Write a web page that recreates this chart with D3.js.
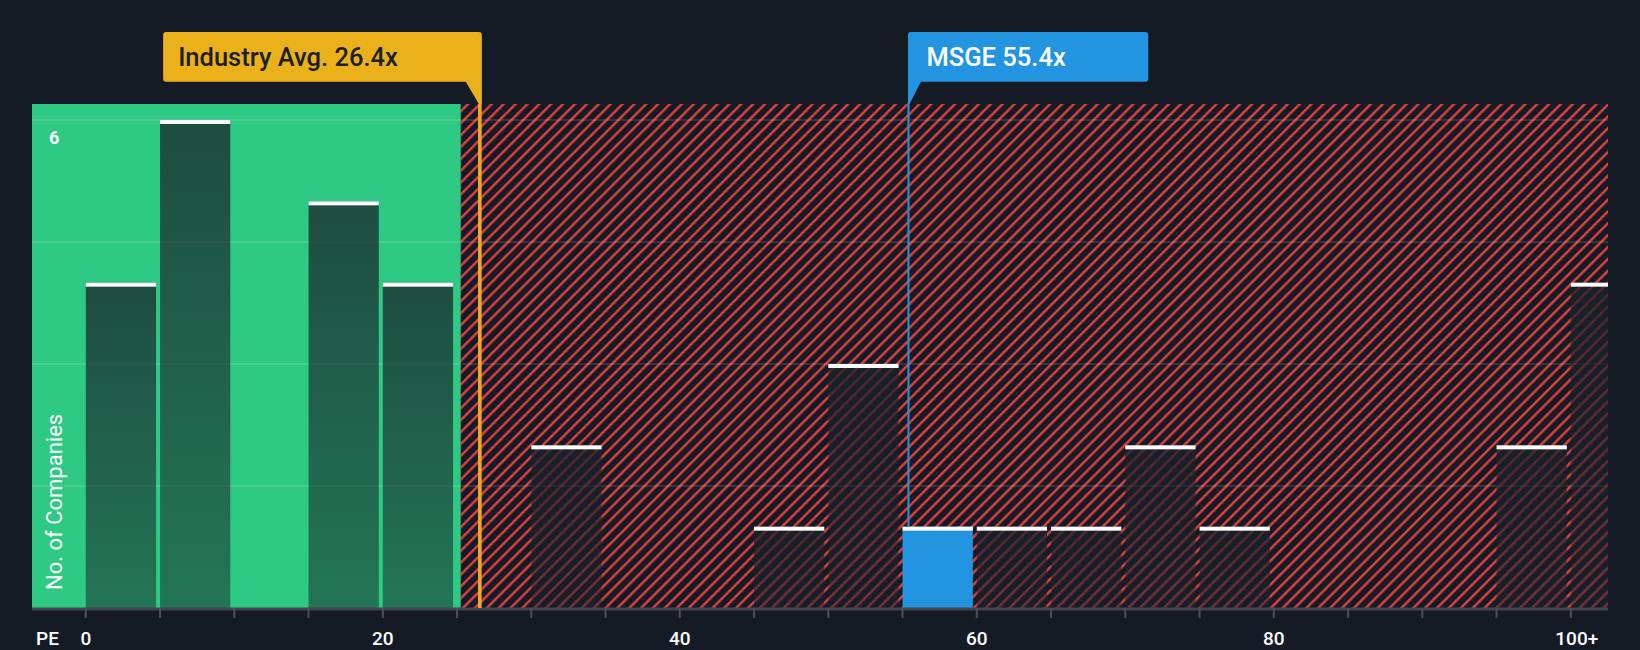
<!DOCTYPE html>
<html><head><meta charset="utf-8">
<script src="https://cdn.jsdelivr.net/npm/d3@7"></script>
<style>
html,body{margin:0;padding:0;background:#151b24;}
svg{display:block;font-family:Roboto,"Noto Sans",sans-serif;}
</style></head>
<body>
<svg id="chart" width="1640" height="650"></svg>
<script>
// ---- data ----
const binStarts = [0,5,10,15,20,25,30,35,40,45,50,55,60,65,70,75,80,85,90,95,100];
const counts    = [4,6,0,5,4,0,2,0,0,1,3,1,1,1,2,1,0,0,0,2,4];
const binWidth = 5;
const tickValues = [0,20,40,60,80,100];
const tickLabels = ["0","20","40","60","80","100+"];
const minorTicks = d3.range(0,101,5);
const gridValues = [1.5,3,4.5,6];
const yLabelValues = [6];
const industryAvg = 26.4;
const companyPE = 55.4;
const companyName = "MSGE";

// ---- layout ----
const L = 32, R = 1608, T = 104, B = 608;
const svg = d3.select("#chart");
const x = d3.scaleLinear().domain([0,100]).range([85.8, 1570.8]);
const y = d3.scaleLinear().domain([0,6]).range([B, 120]);
const bw = x(binWidth) - x(0);

const defs = svg.append("defs");
const P = 8.4;
const pat = defs.append("pattern").attr("id","hatch").attr("patternUnits","userSpaceOnUse")
  .attr("width",P).attr("height",P).attr("patternTransform","rotate(45)");
pat.append("rect").attr("width",P).attr("height",P).attr("fill","#151b24");
pat.append("line").attr("x1",1.3).attr("y1",0).attr("x2",1.3).attr("y2",P)
  .attr("stroke","#e2403f").attr("stroke-width",2.4);
const grad = defs.append("linearGradient").attr("id","barGrad").attr("x1",0).attr("y1",0).attr("x2",0).attr("y2",1);
grad.append("stop").attr("offset","0%").attr("stop-color","#19212a").attr("stop-opacity",0.74);
grad.append("stop").attr("offset","100%").attr("stop-color","#19212a").attr("stop-opacity",0.5);
defs.append("clipPath").attr("id","plotClip").append("rect")
  .attr("x",L).attr("y",T-30).attr("width",R-L).attr("height",B-T+30);

const avgX = x(industryAvg) + 2;
const greenEnd = avgX - 19;

// regions
svg.append("rect").attr("x",L).attr("y",T).attr("width",greenEnd-L).attr("height",B-T).attr("fill","#2ec983");
svg.append("rect").attr("x",greenEnd).attr("y",T).attr("width",R-greenEnd).attr("height",B-T).attr("fill","url(#hatch)");

// gridlines
svg.append("g").selectAll("line").data(gridValues).join("line")
  .attr("x1",L).attr("x2",R).attr("y1",d=>y(d)).attr("y2",d=>y(d))
  .attr("stroke","rgba(255,255,255,0.12)").attr("stroke-width",2);

// bars
const bars = binStarts.map((s,i)=>({s, c:counts[i]})).filter(d=>d.c>0);
const gb = svg.append("g").attr("clip-path","url(#plotClip)");
gb.selectAll("rect.bar").data(bars).join("rect").attr("class","bar")
  .attr("x",d=>x(d.s)).attr("width",bw-4)
  .attr("y",d=>y(d.c)).attr("height",d=>B-y(d.c))
  .attr("fill",d=> (companyPE>=d.s && companyPE<d.s+binWidth) ? "#2394df" : "url(#barGrad)");
gb.selectAll("rect.cap").data(bars).join("rect").attr("class","cap")
  .attr("x",d=>x(d.s)).attr("width",bw-4)
  .attr("y",d=>y(d.c)).attr("height",4).attr("fill","#ffffff");

// axis
svg.append("line").attr("x1",L).attr("x2",R).attr("y1",B+1).attr("y2",B+1).attr("stroke","#3f444d").attr("stroke-width",3);
svg.append("g").selectAll("line").data(minorTicks).join("line")
  .attr("x1",d=>x(d)).attr("x2",d=>x(d)).attr("y1",B).attr("y2",B+10)
  .attr("stroke","#4a4f58").attr("stroke-width",2);
svg.append("g").selectAll("text").data(tickValues).join("text")
  .attr("x",d=>x(d)+(d===100?6:0)).attr("y",645).attr("text-anchor","middle")
  .attr("fill","#ffffff").attr("font-size",19).attr("font-weight",500)
  .text((d,i)=>tickLabels[i]);
svg.append("text").attr("x",36).attr("y",645).attr("fill","#ffffff").attr("font-size",19).attr("font-weight",500).text("PE");

// y labels
svg.append("g").selectAll("text").data(yLabelValues).join("text")
  .attr("x",49).attr("y",d=>y(d)+24).attr("fill","#ffffff").attr("font-size",18).attr("font-weight",700).text(d=>d);
svg.append("text").attr("transform","translate(62,590) rotate(-90)")
  .attr("fill","#ffffff").attr("font-size",22).attr("font-weight",400).text("No. of Companies");

// industry avg marker
const boxTop = 32, boxBot = 81.7;
svg.append("rect").attr("x",avgX-1.8).attr("y",T).attr("width",3.6).attr("height",B-T).attr("fill","#f0aa1c");
const gInd = svg.append("g");
const indPath = gInd.append("path").attr("fill","#ebb11a");
const indText = gInd.append("text").attr("y",66).attr("fill","#1b2029").attr("font-size",25.5).attr("font-weight",500)
  .text("Industry Avg. " + industryAvg + "x");
const indW = indText.node().getComputedTextLength();
const indRight = avgX + 2;
const indLeft = indRight - (indW + 99);
indText.attr("x", indLeft + 15);
indPath.attr("d",
  `M${indLeft+3},${boxTop} H${indRight-3} Q${indRight},${boxTop} ${indRight},${boxTop+3} V${T} L${indRight-3},${T} L${indRight-16},${boxBot} H${indLeft+3} Q${indLeft},${boxBot} ${indLeft},${boxBot-3} V${boxTop+3} Q${indLeft},${boxTop} ${indLeft+3},${boxTop} Z`);

// company marker
const cx = x(companyPE);
const cBar = binStarts.findIndex(s=>companyPE>=s && companyPE<s+binWidth);
svg.append("rect").attr("x",cx-1).attr("y",T-2).attr("width",2).attr("height",y(counts[cBar])-T+2).attr("fill","#2394df");
const gC = svg.append("g");
const cPath = gC.append("path").attr("fill","#2394df");
const cText = gC.append("text").attr("y",65.5).attr("fill","#ffffff").attr("font-size",25.5).attr("font-weight",500)
  .text(companyName + " " + companyPE + "x");
const cW = cText.node().getComputedTextLength();
const cLeft = cx - 0.5;
const cRight = cLeft + cW + 101;
cText.attr("x", cLeft + 18.5);
cPath.attr("d",
  `M${cLeft+3},${boxTop} H${cRight-3} Q${cRight},${boxTop} ${cRight},${boxTop+3} V${boxBot-3} Q${cRight},${boxBot} ${cRight-3},${boxBot} H${cLeft+13} L${cLeft+1.5},${T} L${cLeft},${T} V${boxTop+3} Q${cLeft},${boxTop} ${cLeft+3},${boxTop} Z`);
</script>
</body></html>
